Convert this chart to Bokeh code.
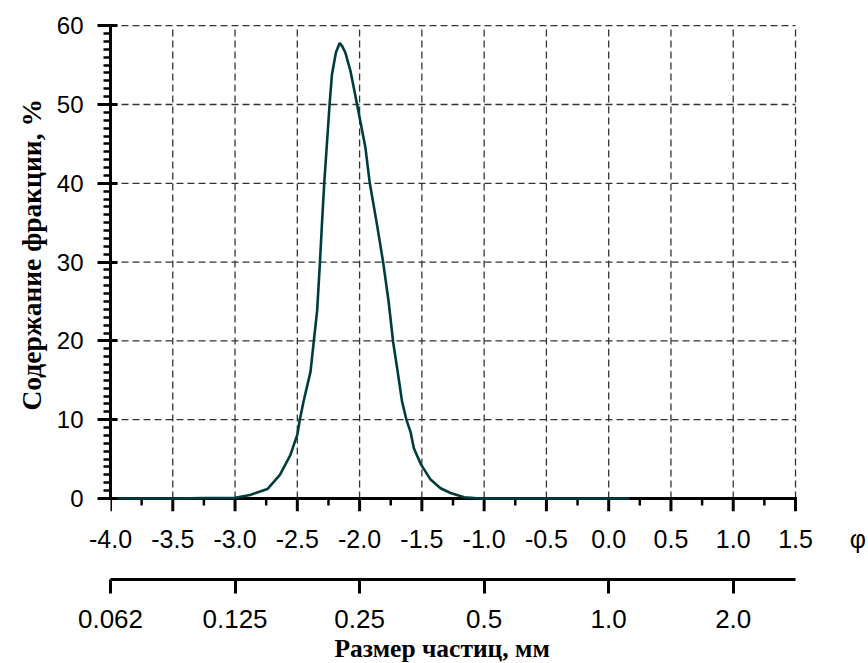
import math
from bokeh.plotting import figure
from bokeh.models import LinearAxis, FixedTicker, Range1d, Title
from bokeh.embed import file_html
from bokeh.resources import INLINE

# ---- data ----
phi = [-4.0, -3.5, -3.25, -3.0, -2.88, -2.74, -2.64, -2.556, -2.50, -2.48, -2.45,
       -2.394, -2.368, -2.341, -2.32, -2.303, -2.284, -2.268, -2.241, -2.222, -2.19,
       -2.16, -2.14, -2.115, -2.074, -2.02, -1.953, -1.918, -1.865, -1.811, -1.767,
       -1.731, -1.699, -1.659, -1.624, -1.59, -1.565, -1.51, -1.43, -1.35, -1.27,
       -1.16, -1.03, -0.5, 0.0, 0.17]
content = [0, 0, 0.05, 0.1, 0.45, 1.2, 3.0, 5.5, 8.1, 10, 12.3,
           16.1, 19.9, 23.8, 29.5, 34.6, 40, 43.7, 50, 53.8, 56.6,
           57.8, 57.4, 56.6, 54.3, 50, 44.5, 40, 35.2, 30, 25,
           19.9, 16.6, 12.3, 10, 8.4, 6.4, 4.4, 2.4, 1.3, 0.7,
           0.15, 0.0, 0, 0, 0]

phi_ticks = [-4.0, -3.5, -3.0, -2.5, -2.0, -1.5, -1.0, -0.5, 0.0, 0.5, 1.0, 1.5]
phi_labels = ["-4.0", "-3.5", "-3.0", "-2.5", "-2.0", "-1.5", "-1.0", "-0.5",
              "0.0", "0.5", "1.0", "1.5"]
phi_minor = [-3.75, -3.25, -2.75, -2.25, -1.75, -1.25, -0.75, -0.25, 0.25, 0.75, 1.25]
phi_symbol_pos = 2.0
phi_symbol = "φ"
size_ticks = [-4.0, -3.0, -2.0, -1.0, 0.0, 1.0]
size_labels = ["0.062", "0.125", "0.25", "0.5", "1.0", "2.0"]
y_ticks = [0, 10, 20, 30, 40, 50, 60]
y_minor = list(range(0, 61))

x_title = "Размер частиц, мм"
y_title = "Содержание фракции, %"

SANS = "Liberation Sans"
SERIF = "Liberation Serif"
GRID = dict(line_color="#333333", line_width=1.3, line_dash="7 4")

x_lo, x_hi = phi_ticks[0], phi_ticks[-1]
y_lo, y_hi = y_ticks[0], y_ticks[-1]

p = figure(width=868, height=663,
           x_range=Range1d(-4.0, 2.07), y_range=Range1d(-1.65, 60.15),
           output_backend="svg", toolbar_location=None,
           min_border_left=110, min_border_right=2, min_border_top=24,
           min_border_bottom=152)
p.outline_line_color = None
p.background_fill_color = "white"
p.border_fill_color = "white"
p.xgrid.visible = False
p.ygrid.visible = False

# dashed grid (limited to the data area)
p.segment(x0=phi_ticks[1:], y0=[y_lo] * (len(phi_ticks) - 1),
          x1=phi_ticks[1:], y1=[y_hi] * (len(phi_ticks) - 1), **GRID)
p.segment(x0=[x_lo] * (len(y_ticks) - 1), y0=y_ticks[1:],
          x1=[x_hi] * (len(y_ticks) - 1), y1=y_ticks[1:], **GRID)

# phi axis line and its tick marks (below y = 0)
p.segment(x0=[x_lo], y0=[y_lo], x1=[x_hi], y1=[y_lo], line_color="black",
          line_width=3, line_cap="square")
p.ray(x=phi_ticks, y=[y_lo] * len(phi_ticks), length=13, angle=-math.pi / 2,
      length_units="screen", line_color="black", line_width=3)
p.ray(x=phi_minor, y=[y_lo] * len(phi_minor), length=7, angle=-math.pi / 2,
      length_units="screen", line_color="black", line_width=2.5)

# curve
p.line(phi, content, line_color="#003c3c", line_width=2.6)

# primary x axis: only the labels (incl. the phi symbol)
ax = p.xaxis[0]
ax.ticker = FixedTicker(ticks=phi_ticks + [phi_symbol_pos], minor_ticks=[])
ov = {t: l for t, l in zip(phi_ticks, phi_labels)}
ov[phi_symbol_pos] = phi_symbol
ax.major_label_overrides = ov
ax.axis_line_color = None
ax.major_tick_line_color = None
ax.minor_tick_line_color = None
ax.major_tick_out = 0
ax.major_tick_in = 0
ax.minor_tick_out = 0
ax.minor_tick_in = 0
ax.major_label_text_font = SANS
ax.major_label_text_font_size = "25px"
ax.major_label_text_color = "black"
ax.major_label_standoff = 13
ax.axis_label = " "
ax.axis_label_text_font_size = "10px"
ax.axis_label_standoff = 10

# secondary (size) axis
ax2 = LinearAxis(ticker=FixedTicker(ticks=size_ticks, minor_ticks=[]),
                 bounds=(x_lo, x_hi))
ax2.major_label_overrides = {t: l for t, l in zip(size_ticks, size_labels)}
ax2.axis_line_width = 3
ax2.axis_line_color = "black"
ax2.major_tick_line_width = 3
ax2.major_tick_out = 14
ax2.major_tick_in = 0
ax2.minor_tick_out = 0
ax2.minor_tick_in = 0
ax2.major_label_text_font = SANS
ax2.major_label_text_font_size = "26px"
ax2.major_label_text_color = "black"
ax2.major_label_standoff = 16
p.add_layout(ax2, "below")
p.add_layout(Title(text=x_title, align="left", offset=224, standoff=2,
                   text_font=SERIF, text_font_style="bold",
                   text_font_size="25.5px", text_color="black"), "below")

# y axis
ay = p.yaxis[0]
ay.bounds = (y_lo, y_hi)
ay.ticker = FixedTicker(ticks=y_ticks, minor_ticks=y_minor)
ay.axis_line_width = 3
ay.axis_line_color = "black"
ay.major_tick_line_width = 3
ay.minor_tick_line_width = 2.5
ay.major_tick_out = 13
ay.major_tick_in = 7
ay.minor_tick_out = 7
ay.minor_tick_in = 0
ay.major_label_text_font = SANS
ay.major_label_text_font_size = "24px"
ay.major_label_text_color = "black"
ay.major_label_standoff = 14
p.add_layout(Title(text=y_title, align="left", offset=101, standoff=14,
                   text_font=SERIF, text_font_style="bold",
                   text_font_size="27.5px", text_color="black"), "left")

open("out.html", "w").write(file_html(p, INLINE))
